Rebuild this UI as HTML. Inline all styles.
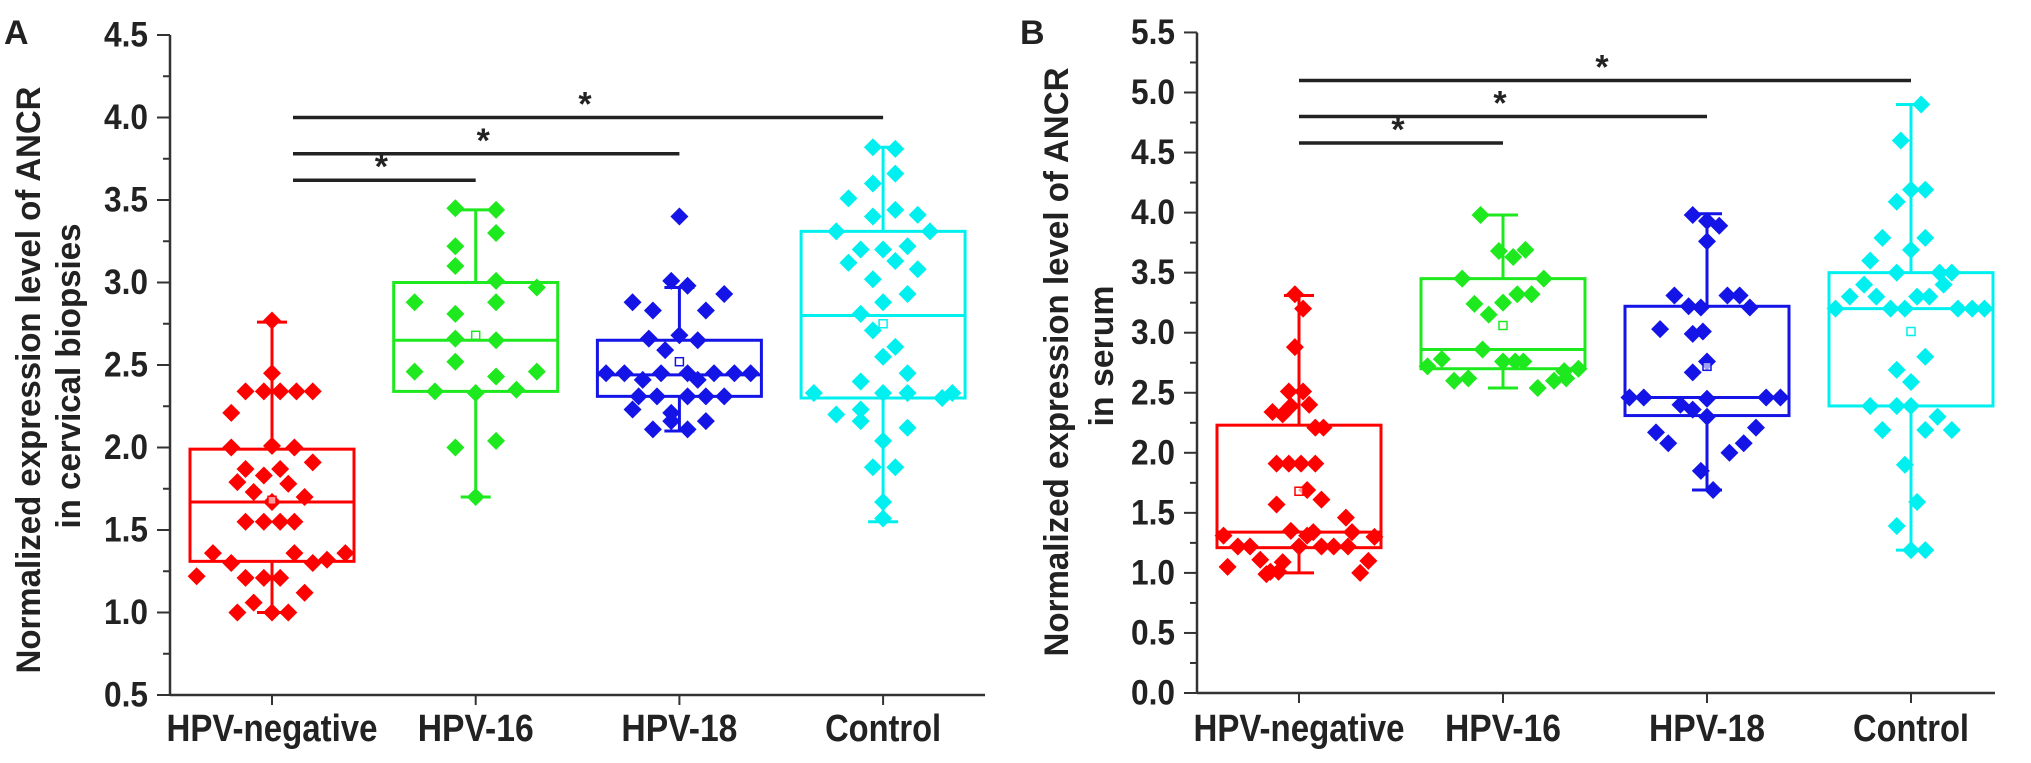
<!DOCTYPE html>
<html><head><meta charset="utf-8"><style>
html,body{margin:0;padding:0;background:#fff;}
svg{display:block;}
text{font-family:"Liberation Sans",Arial,sans-serif;font-weight:bold;fill:#222;}
</style></head><body>
<svg id="chart" width="2031" height="763" viewBox="0 0 2031 763" xmlns="http://www.w3.org/2000/svg"></svg>
<script>
const categories = ["HPV-negative","HPV-16","HPV-18","Control"];
const colors = ["#ff0000","#1ee81e","#1414e6","#00f0f0"];

// Panel A (cervical biopsies)
const aTicks = [0.5,1.0,1.5,2.0,2.5,3.0,3.5,4.0,4.5];
const aNegValues = [2.77,2.45,2.34,2.34,2.34,2.34,2.34,2.21,2.0,2.01,2.0,1.91,1.87,1.87,1.83,1.79,1.78,1.73,1.70,1.67,1.55,1.55,1.55,1.55,1.36,1.36,1.36,1.30,1.30,1.32,1.22,1.21,1.21,1.21,1.12,1.06,1.0,1.0,1.0];
const aNegJitter = [0,0,-0.13,-0.04,0.04,0.12,0.2,-0.2,-0.2,0,0.11,0.2,-0.13,0.04,-0.04,-0.17,0.08,-0.09,0.16,0,-0.13,-0.04,0.04,0.11,-0.29,0.11,0.36,-0.2,0.2,0.27,-0.37,-0.13,-0.04,0.04,0.16,-0.09,-0.17,0,0.08];
const a16Values = [3.45,3.44,3.30,3.22,3.10,3.01,2.97,2.88,2.88,2.81,2.66,2.65,2.52,2.46,2.46,2.43,2.34,2.33,2.35,2.0,2.04,1.70];
const a16Jitter = [-0.1,0.1,0.1,-0.1,-0.1,0.1,0.3,-0.3,0.1,-0.1,-0.1,0.1,-0.1,-0.3,0.3,0.1,-0.2,0,0.2,-0.1,0.1,0];
const a18Values = [3.40,3.01,2.98,2.88,2.83,2.83,2.93,2.66,2.68,2.65,2.59,2.45,2.45,2.45,2.45,2.45,2.45,2.45,2.41,2.41,2.31,2.31,2.31,2.31,2.31,2.23,2.21,2.16,2.11,2.16,2.11];
const a18Jitter = [0,-0.04,0.04,-0.23,-0.13,0.13,0.22,-0.15,0,0.09,-0.07,-0.36,-0.27,-0.09,0.04,0.17,0.27,0.35,-0.18,0.09,-0.2,-0.11,0.04,0.13,0.22,-0.23,-0.04,0.13,-0.13,-0.04,0.04];
const aCtrlValues = [3.82,3.81,3.66,3.60,3.51,3.40,3.44,3.41,3.31,3.31,3.20,3.20,3.22,3.12,3.13,3.08,3.02,2.93,2.88,2.81,2.71,2.61,2.55,2.45,2.40,2.33,2.33,2.33,2.33,2.30,2.20,2.23,2.16,2.12,2.04,1.88,1.88,1.67,1.57];
const aCtrlJitter = [-0.05,0.06,0.06,-0.05,-0.17,-0.05,0.06,0.17,-0.23,0.23,-0.11,0,0.12,-0.17,0.06,0.17,-0.05,0.12,0,-0.11,-0.05,0.06,0,0.12,-0.11,-0.34,0,0.12,0.34,0.29,-0.23,-0.11,-0.11,0.12,0,-0.05,0.06,0,0];
const aQ1 = [1.31,2.34,2.31,2.30];
const aMedian = [1.67,2.65,2.44,2.80];
const aQ3 = [1.99,3.00,2.65,3.31];
const aWhiskerLow = [1.0,1.70,2.10,1.55];
const aWhiskerHigh = [2.76,3.44,2.97,3.82];
const aMean = [1.68,2.68,2.52,2.75];
const aSigLevels = [3.62,3.78,4.0];
const aSigTargets = [1,2,3];

// Panel B (serum)
const bTicks = [0.0,0.5,1.0,1.5,2.0,2.5,3.0,3.5,4.0,4.5,5.0,5.5];
const bNegValues = [3.32,3.20,2.88,2.51,2.51,2.34,2.32,2.39,2.40,2.21,2.21,1.91,1.91,1.91,1.91,1.69,1.57,1.61,1.46,1.31,1.35,1.31,1.34,1.34,1.30,1.22,1.22,1.22,1.22,1.22,1.22,1.05,1.11,1.01,1.09,1.01,1.10,1.0,0.99];
const bNegJitter = [-0.02,0.02,-0.02,-0.05,0.02,-0.13,-0.08,-0.04,0.05,0.08,0.12,-0.11,-0.05,0.01,0.08,0.04,-0.11,0.11,0.23,-0.37,-0.04,0.04,0.07,0.26,0.37,-0.3,-0.24,0,0.11,0.17,0.24,-0.35,-0.19,-0.14,-0.08,-0.1,0.34,0.3,-0.16];
const b16Values = [3.98,3.68,3.63,3.69,3.45,3.45,3.32,3.32,3.24,3.25,3.15,2.86,2.76,2.76,2.76,2.72,2.78,2.68,2.70,2.60,2.62,2.54,2.60,2.62];
const b16Jitter = [-0.11,-0.02,0.05,0.11,-0.2,0.2,0.07,0.14,-0.14,0,-0.07,-0.1,0,0.06,0.1,-0.37,-0.3,0.3,0.37,-0.24,-0.17,0.17,0.25,0.31];
const b18Values = [3.98,3.93,3.89,3.76,3.31,3.31,3.31,3.22,3.21,3.21,3.03,2.99,3.01,2.76,2.67,2.46,2.46,2.45,2.46,2.46,2.40,2.36,2.30,2.17,2.08,2.0,2.08,2.21,1.85,1.69];
const b18Jitter = [-0.07,0,0.06,0,-0.16,0.1,0.16,-0.09,-0.03,0.21,-0.23,-0.07,-0.02,0,-0.07,-0.38,-0.31,0,0.29,0.36,-0.13,-0.07,0,-0.25,-0.19,0.11,0.18,0.24,-0.03,0.03];
const bCtrlValues = [4.90,4.60,4.19,4.19,4.09,3.79,3.79,3.69,3.60,3.50,3.50,3.50,3.40,3.40,3.30,3.30,3.30,3.30,3.20,3.20,3.20,3.20,3.20,3.20,2.80,2.69,2.59,2.39,2.39,2.39,2.30,2.19,2.19,2.19,1.90,1.59,1.39,1.19,1.19];
const bCtrlJitter = [0.05,-0.05,0,0.07,-0.07,-0.14,0.07,0,-0.2,-0.07,0.14,0.2,0.16,-0.23,-0.3,-0.17,0.03,0.09,-0.37,-0.1,-0.03,0.23,0.3,0.36,0.07,-0.07,0,-0.2,-0.07,0,0.13,-0.14,0.07,0.2,-0.03,0.03,-0.07,0,0.07];
const bQ1 = [1.21,2.70,2.31,2.39];
const bMedian = [1.34,2.86,2.46,3.20];
const bQ3 = [2.23,3.45,3.22,3.50];
const bWhiskerLow = [1.0,2.54,1.69,1.19];
const bWhiskerHigh = [3.31,3.98,3.99,4.90];
const bMean = [1.68,3.06,2.72,3.01];
const bSigLevels = [4.58,4.8,5.1];
const bSigTargets = [1,2,3];

const NS = "http://www.w3.org/2000/svg";
const svg = document.getElementById('chart');
function mk(tag, attrs, parent, text){
  const e = document.createElementNS(NS, tag);
  for (const k in attrs) e.setAttribute(k, attrs[k]);
  if (text !== undefined) e.textContent = text;
  (parent || svg).appendChild(e);
  return e;
}

function drawPanel(p){
  const g = mk('g', {});
  
  
  const x = i => p.x0 + i * p.step;
  const y = v => p.yBottom - (v - p.vMin) * p.pxPerUnit;
  const bw = 164;

  // panel letter
  const letter = mk('text', {x:p.letterX, y:44, 'font-size':34}, g, p.letter);
  
  

  // axes
  const yTop = y(p.ticks[p.ticks.length-1]);
  const yAxis = mk('line', {x1:p.axisX, y1:yTop, x2:p.axisX, y2:p.yBottom, stroke:'#333', 'stroke-width':2.5}, g);
  
  
  const xAxis = mk('line', {x1:p.axisX, y1:p.yBottom, x2:p.xEnd, y2:p.yBottom, stroke:'#333', 'stroke-width':2.5}, g);
  
  

  p.ticks.forEach((t, i) => {
    const ty = y(t);
    mk('line', {x1:p.axisX-13, y1:ty, x2:p.axisX, y2:ty, stroke:'#333', 'stroke-width':2}, g);
    const lbl = mk('text', {x:p.axisX-22, y:ty, 'font-size':35, 'text-anchor':'end', 'dominant-baseline':'central', textLength:44, lengthAdjust:'spacingAndGlyphs'}, g, t.toFixed(1));
    
    
    if (i < p.ticks.length-1) {
      const my = y(t + 0.25);
      mk('line', {x1:p.axisX-7, y1:my, x2:p.axisX, y2:my, stroke:'#333', 'stroke-width':2}, g);
    }
  });

  // y title
  const ty1 = mk('text', {x:0, y:0, 'font-size':34, 'text-anchor':'middle', textLength:p.t1Len, lengthAdjust:'spacingAndGlyphs', transform:`translate(${p.t1x},${p.tCy}) rotate(-90)`}, g, 'Normalized expression level of ANCR');
  
  
  const ty2 = mk('text', {x:0, y:0, 'font-size':34, 'text-anchor':'middle', textLength:p.t2Len, lengthAdjust:'spacingAndGlyphs', transform:`translate(${p.t2x},${p.t2Cy}) rotate(-90)`}, g, p.t2);
  
  

  categories.forEach((c, i) => {
    const cx = x(i);
    mk('line', {x1:cx, y1:p.yBottom, x2:cx, y2:p.yBottom+10, stroke:'#333', 'stroke-width':2}, g);
    const lbl = mk('text', {x:cx, y:741, 'font-size':38, 'text-anchor':'middle', textLength: i===0 ? 211 : 116, lengthAdjust:'spacingAndGlyphs'}, g, c);
    
    

    const col = colors[i];
    const bg = mk('g', {stroke:col, fill:'none', 'stroke-width':3}, g);
    
    
    mk('rect', {x:cx-bw/2, y:y(p.q3[i]), width:bw, height:y(p.q1[i])-y(p.q3[i])}, bg);
    mk('line', {x1:cx-bw/2, y1:y(p.median[i]), x2:cx+bw/2, y2:y(p.median[i])}, bg);
    mk('line', {x1:cx, y1:y(p.q3[i]), x2:cx, y2:y(p.wHigh[i])}, bg);
    mk('line', {x1:cx, y1:y(p.q1[i]), x2:cx, y2:y(p.wLow[i])}, bg);
    mk('line', {x1:cx-15, y1:y(p.wHigh[i]), x2:cx+15, y2:y(p.wHigh[i])}, bg);
    mk('line', {x1:cx-15, y1:y(p.wLow[i]), x2:cx+15, y2:y(p.wLow[i])}, bg);

    const vals = p.values[i], jit = p.jitter[i];
    vals.forEach((v, k) => {
      const px = cx + jit[k] * p.step, py = y(v), r = 9;
      const d = mk('polygon', {points:`${px},${py-r} ${px+r},${py} ${px},${py+r} ${px-r},${py}`, fill:col}, g);
      
      
    });
    const m = mk('rect', {x:cx-4, y:y(p.mean[i])-4, width:8, height:8, fill:'#fff', stroke:col, 'stroke-width':1.5, 'fill-opacity':0.6}, g);
    
    
  });

  // significance bars
  p.sigLevels.forEach((lv, k) => {
    const x1 = x(0) + p.sigStart, x2 = x(p.sigTargets[k]);
    const ly = y(lv);
    const l = mk('line', {x1:x1, y1:ly, x2:x2, y2:ly, stroke:'#222', 'stroke-width':3.5}, g);
    
    
    const s = mk('text', {x:(x1+x2)/2 - 3, y:ly - 2, 'font-size':34, 'text-anchor':'middle'}, g, '*');
    
    
  });
}

drawPanel({id:'a', letter:'A', letterX:4, x0:272, step:203.7, axisX:170, xEnd:985, yBottom:695, vMin:0.5, pxPerUnit:165,
  ticks:aTicks, t1x:40, t2x:80, tCy:380, t2Cy:376, t1Len:587, t2Len:305, t2:'in cervical biopsies',
  q1:aQ1, median:aMedian, q3:aQ3, wLow:aWhiskerLow, wHigh:aWhiskerHigh, mean:aMean,
  values:[aNegValues,a16Values,a18Values,aCtrlValues], jitter:[aNegJitter,a16Jitter,a18Jitter,aCtrlJitter],
  sigLevels:aSigLevels, sigTargets:aSigTargets, sigStart:21});
drawPanel({id:'b', letter:'B', letterX:1020, x0:1299, step:204, axisX:1197, xEnd:1995, yBottom:693, vMin:0, pxPerUnit:120.1,
  ticks:bTicks, t1x:1068, t2x:1113, tCy:362, t2Cy:356, t1Len:589, t2Len:141, t2:'in serum',
  q1:bQ1, median:bMedian, q3:bQ3, wLow:bWhiskerLow, wHigh:bWhiskerHigh, mean:bMean,
  values:[bNegValues,b16Values,b18Values,bCtrlValues], jitter:[bNegJitter,b16Jitter,b18Jitter,bCtrlJitter],
  sigLevels:bSigLevels, sigTargets:bSigTargets, sigStart:0});
</script>
</body></html>
